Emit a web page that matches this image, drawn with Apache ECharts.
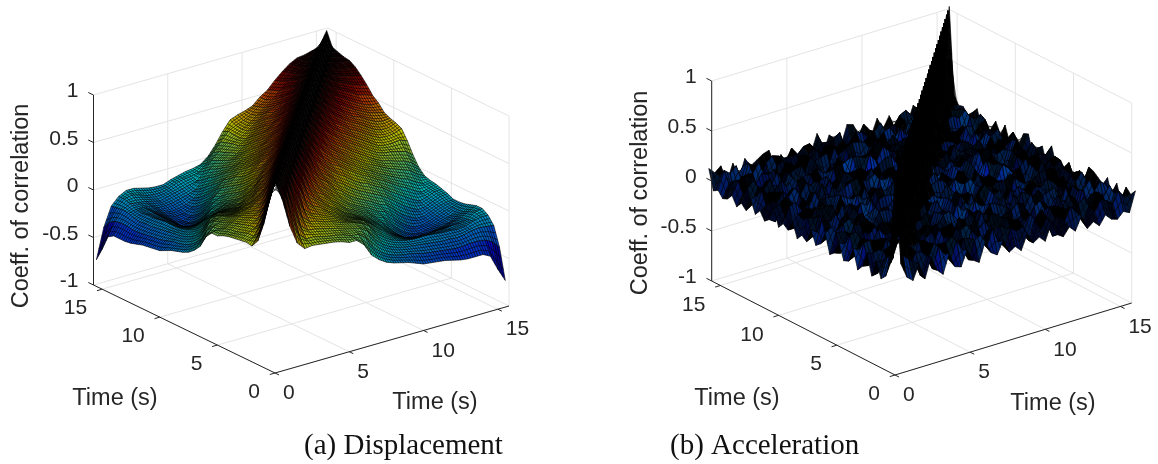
<!DOCTYPE html>
<html>
<head>
<meta charset="utf-8">
<title>Coefficient of correlation</title>
<script src="https://cdn.jsdelivr.net/npm/echarts@6/dist/echarts.min.js"></script>
<style>
  html, body { margin: 0; background: #fff; }
  #chart { width: 1158px; height: 464px; }
</style>
</head>
<body>
<div id="chart"></div>
<script>
const timeTicks = [0, 5, 10, 15]
const timeLabels = ['0', '5', '10', '15']
const corrTicks = [-1, -0.5, 0, 0.5, 1]
const corrLabels = ['-1', '-0.5', '0', '0.5', '1']

// both surfaces are symmetric, so only one side of the diagonal is kept:
// row k holds z at time lag k*step, the entries run along the smaller time
const dispStep = 0.5
const dispByLag = [
  [1,1,1,1,1,1,1,1,1,1,1,1,1,1,1,1,1,1,1,1,1,1,1,1,1,1,1,1,1,1,1,1],
  [.8,.81,.81,.82,.83,.83,.84,.84,.84,.84,.85,.85,.85,.85,.85,.85,.85,.85,.85,.85,.85,.85,.85,.85,.85,.85,.85,.85,.85,.85,.85],
  [.5,.54,.57,.6,.63,.66,.68,.69,.7,.71,.72,.72,.73,.73,.74,.75,.75,.76,.76,.77,.77,.77,.78,.79,.8,.8,.81,.82,.82,.83],
  [.3,.34,.38,.42,.45,.49,.52,.54,.56,.58,.59,.6,.62,.63,.64,.65,.66,.67,.68,.69,.7,.71,.72,.73,.75,.76,.78,.8,.81],
  [.22,.27,.31,.35,.38,.41,.44,.45,.47,.49,.5,.52,.53,.55,.56,.57,.59,.6,.61,.63,.64,.65,.67,.69,.72,.74,.77,.8],
  [.23,.27,.3,.33,.35,.37,.38,.4,.41,.43,.44,.45,.46,.48,.5,.51,.53,.54,.56,.57,.58,.6,.62,.65,.68,.72,.76],
  [.22,.25,.28,.3,.31,.31,.31,.32,.33,.34,.36,.39,.42,.43,.44,.46,.47,.49,.5,.52,.53,.55,.57,.6,.65,.7],
  [.21,.23,.26,.28,.28,.27,.26,.26,.27,.29,.31,.34,.36,.37,.38,.4,.42,.44,.46,.48,.5,.51,.53,.58,.63],
  [.2,.22,.24,.25,.24,.22,.2,.19,.2,.22,.25,.28,.31,.32,.33,.35,.37,.39,.41,.43,.45,.47,.5,.55],
  [.18,.2,.21,.22,.2,.18,.16,.15,.15,.17,.2,.23,.26,.27,.28,.3,.32,.34,.36,.38,.41,.45,.5],
  [.15,.17,.19,.2,.18,.15,.12,.11,.11,.13,.16,.2,.22,.23,.24,.25,.27,.29,.32,.35,.39,.43],
  [.15,.16,.17,.17,.15,.11,.08,.07,.07,.09,.12,.15,.17,.18,.2,.21,.24,.27,.31,.35,.4],
  [.08,.1,.12,.12,.09,.05,.02,.01,.02,.04,.08,.11,.13,.14,.16,.19,.23,.27,.32,.38],
  [-.05,-.02,.01,.02,.02,0,-.02,-.02,-.01,.01,.03,.05,.08,.1,.13,.16,.21,.28,.35],
  [-.12,-.09,-.06,-.04,-.04,-.07,-.1,-.1,-.08,-.06,-.03,0,.03,.06,.1,.14,.19,.25],
  [-.17,-.14,-.11,-.09,-.1,-.14,-.18,-.18,-.16,-.13,-.09,-.05,-.01,.03,.07,.1,.13],
  [-.2,-.17,-.14,-.12,-.14,-.19,-.24,-.24,-.22,-.18,-.14,-.1,-.06,-.02,.01,.03],
  [-.22,-.19,-.16,-.14,-.17,-.23,-.28,-.28,-.26,-.22,-.18,-.14,-.1,-.06,-.03],
  [-.24,-.2,-.17,-.15,-.18,-.24,-.29,-.29,-.26,-.22,-.17,-.12,-.08,-.05],
  [-.27,-.22,-.18,-.15,-.18,-.24,-.28,-.27,-.24,-.19,-.14,-.09,-.06],
  [-.3,-.24,-.19,-.15,-.18,-.23,-.26,-.25,-.21,-.16,-.11,-.08],
  [-.31,-.25,-.2,-.16,-.18,-.22,-.24,-.22,-.18,-.14,-.1],
  [-.32,-.26,-.21,-.17,-.18,-.21,-.22,-.2,-.16,-.13],
  [-.33,-.27,-.21,-.17,-.17,-.18,-.18,-.16,-.13],
  [-.35,-.28,-.22,-.18,-.17,-.16,-.15,-.12],
  [-.37,-.28,-.21,-.17,-.15,-.12,-.1],
  [-.38,-.27,-.19,-.14,-.1,-.08],
  [-.38,-.27,-.18,-.12,-.08],
  [-.38,-.28,-.19,-.12],
  [-.42,-.32,-.2],
  [-.58,-.4],
  [-.72]
]

// acceleration is in hundredths, it is noise everywhere but on the diagonal
const accStep = 0.4
const accByLag = [
  [100,100,100,100,100,100,100,100,100,100,100,100,100,100,100,100,100,100,100,100,100,100,100,100,100,100,100,100,100,100,100,100,100,100,100,100,100,100,100,100,100],
  [9,14,6,11,17,8,12,5,15,10,7,13,18,6,11,9,16,4,12,14,8,10,19,7,13,5,11,15,9,6,14,12,8,17,10,5,13,11,7,15],
  [-6,8,-3,11,-9,4,13,-2,6,-11,9,1,-7,12,-4,7,-12,3,10,-5,14,-8,2,9,-13,5,11,-1,-7,8,13,-10,4,-3,12,-6,9,-12,6],
  [-11,3,9,-7,12,-2,-13,6,10,-4,14,-8,1,-10,7,11,-5,-1,13,-9,4,8,-12,2,-6,12,-3,9,-14,5,10,-7,3,-11,8,13,-4,7],
  [4,-12,7,-1,10,-8,5,13,-6,2,-11,9,-3,12,-14,6,3,-9,11,-2,8,-13,5,10,-6,-1,13,-8,4,9,-11,2,7,-12,14,-5,1],
  [-13,6,-2,10,-7,13,-4,-9,8,1,11,-12,5,-6,9,-1,14,-10,3,7,-5,12,-14,2,8,-7,4,11,-2,-9,13,-6,1,10,-3,6],
  [7,-9,12,-5,2,-14,9,3,-8,11,-2,6,-12,10,1,-7,5,13,-11,-3,9,-6,4,12,-10,7,-1,8,-13,3,11,-4,-8,6,12],
  [-8,11,-4,6,-12,3,10,-7,1,13,-9,-2,8,-5,12,4,-13,7,-1,10,-6,14,-3,-11,5,9,-7,2,12,-10,-1,6,13,-5],
  [-14,2,9,-11,7,-3,12,-6,-10,5,14,-1,-8,11,-4,3,9,-12,6,-7,13,1,-5,8,-9,4,11,-13,2,7,-6,10,-2],
  [5,-7,13,-2,-10,8,-5,11,3,-12,6,10,-9,-1,7,-13,12,2,-6,9,-4,-11,14,3,-8,5,-2,12,-10,6,1,-7],
  [-10,12,-6,4,9,-13,1,7,-4,10,-11,5,13,-7,-2,8,-9,11,4,-14,6,2,-5,12,-8,-3,10,7,-12,3,9],
  [-12,1,8,-9,13,-5,-2,11,-7,4,12,-3,-10,6,9,-13,2,5,-8,14,-1,-6,10,-11,7,3,-9,12,-4,-2],
  [3,-11,6,10,-4,12,-8,-1,9,-13,5,7,-6,13,-10,1,11,-3,-7,8,-12,4,6,-2,13,-9,5,-5,10],
  [-9,7,-12,2,5,-6,14,-10,3,8,-1,-13,11,-4,6,10,-8,-2,12,-5,3,-11,9,7,-14,1,4,-6],
  [-13,10,-1,-7,11,3,-9,6,12,-5,-2,8,-13,4,9,-6,1,13,-10,5,-3,11,-7,-1,8,12,-4],
  [6,-4,9,-12,1,13,-7,-3,10,-8,5,11,-2,-10,7,3,-14,8,2,-6,12,-9,4,10,-5,-1],
  [-7,13,-8,3,-5,10,2,-11,6,12,-9,-1,7,-4,13,-12,5,1,-8,9,6,-13,3,-2,11],
  [-11,-2,10,-6,8,-13,4,7,-1,-9,13,3,-5,11,-8,-2,9,6,-12,2,10,-4,-7,13],
  [2,-9,5,12,-10,-1,6,-4,14,-7,1,9,-12,5,8,-3,-10,12,-1,4,-8,11,-6],
  [-12,8,-3,7,1,-11,12,-6,2,10,-13,4,6,-2,-9,13,-5,3,9,-10,7,-1],
  [-8,3,11,-13,6,-2,9,1,-10,7,-4,12,-8,3,11,-6,-1,10,-12,5,8],
  [-14,6,-7,2,10,-5,-9,13,4,-3,8,-12,1,9,-7,12,-2,-5,6,-10],
  [1,-10,12,-4,-8,7,3,-6,11,-13,5,2,-9,10,4,-11,7,-3,13],
  [-10,9,-2,5,-13,11,-1,8,-7,3,12,-6,-4,10,-12,2,9,-5],
  [-6,-3,13,-9,4,6,-12,10,1,-8,7,-2,11,-5,-10,8,3],
  [-12,7,-5,10,-1,-8,3,12,-11,5,9,-4,-13,6,2,-7],
  [4,-13,2,8,-6,11,-10,-2,7,13,-3,-9,5,10,-8],
  [-9,5,10,-12,3,-4,13,-7,1,-11,8,6,-2,-10],
  [-13,-1,6,-7,12,2,-11,9,-5,4,10,-8,3],
  [-5,11,-9,4,7,-13,6,1,-10,12,-3,-6],
  [-11,3,8,-2,-10,9,5,-12,7,-1,11],
  [2,-8,12,-6,1,-11,13,-4,-7,9],
  [-12,6,-3,10,-9,4,7,-13,5],
  [-7,-2,11,-8,5,12,-10,1],
  [-13,9,-5,3,-12,7,10],
  [-4,6,-11,13,-1,-8],
  [-10,1,7,-6,9],
  [-12,12,-3,-8],
  [-6,4,10],
  [-9,5],
  [11]
]

const sideTimeMax = 15.75

// where the box of each panel falls on the page, and how its mesh is inked
const viewA = { front: [275, 373], left: [93.5, 285], right: [509, 306], rise: 190, colorMin: -0.6, colorMax: 0.85, mesh: 3, edge: 0.6, topZ: 0.88, topGain: 3, bright: 0.74, spreadFrom: -1, spreadGain: 1 }
const viewB = { front: [895, 375], left: [711.7, 281], right: [1131.7, 303], rise: 200, colorMin: -0.25, colorMax: 1, mesh: 2, edge: 0.65, topZ: 0.2, topGain: 6, bright: 1, spreadFrom: 0.16, spreadGain: 5 }

const fontSans = '"Liberation Sans", Arial, sans-serif'
const fontSerif = '"Liberation Serif", "Times New Roman", serif'
const textColor = '#262626'
const gridColor = '#e4e4e4'

function clamp01(v) {
  return Math.max(0, Math.min(1, v))
}

function project(view, a, b, z) {
  const ka = a / sideTimeMax
  const kb = b / sideTimeMax
  return [
    view.front[0] + ka * (view.left[0] - view.front[0]) + kb * (view.right[0] - view.front[0]),
    view.front[1] + ka * (view.left[1] - view.front[1]) + kb * (view.right[1] - view.front[1]) - (z + 1) / 2 * view.rise
  ]
}

function jet(t) {
  return [clamp01(1.5 - Math.abs(4 * t - 3)), clamp01(1.5 - Math.abs(4 * t - 2)), clamp01(1.5 - Math.abs(4 * t - 1))]
}

// cells go from the far corner to the near one so that the nearer ones paint over
function buildCells(byLag, step, scale) {
  const n = byLag.length
  const at = (i, j) => byLag[Math.abs(i - j)][Math.min(i, j)] * scale
  const cells = []
  for (let i = n - 2; i >= 0; i--) {
    for (let j = n - 2; j >= 0; j--) {
      cells.push([i * step, j * step, at(i, j), at(i + 1, j), at(i + 1, j + 1), at(i, j + 1), step])
    }
  }
  return cells
}

function mix(p, q, t) {
  return [p[0] + (q[0] - p[0]) * t, p[1] + (q[1] - p[1]) * t]
}

function surfaceSeries(view, cells) {
  return {
    type: 'custom',
    coordinateSystem: 'cartesian2d',
    silent: true,
    z: 2,
    progressive: 0,
    clip: false,
    encode: { x: 0, y: 1 },
    data: cells,
    renderItem(params, api) {
      const a = api.value(0)
      const b = api.value(1)
      const s = api.value(6)
      const zs = [api.value(2), api.value(3), api.value(4), api.value(5)]
      const corners = [[a, b], [a + s, b], [a + s, b + s], [a, b + s]]
      const pts = corners.map((c, i) => api.coord(project(view, c[0], c[1], zs[i])))
      const mean = (zs[0] + zs[1] + zs[2] + zs[3]) / 4
      const spread = Math.max(...zs) - Math.min(...zs)
      // high parts go black, the source mesh is packed too tight there to see any fill
      const shade = view.bright * clamp01((view.topZ - mean) * view.topGain) * clamp01((spread - view.spreadFrom) * view.spreadGain)
      const rgb = jet((mean - view.colorMin) / (view.colorMax - view.colorMin)).map(v => Math.round(v * shade * 255))
      const lineStyle = { stroke: '#000', lineWidth: view.edge }
      const children = [{
        type: 'polygon',
        shape: { points: pts },
        style: { fill: `rgb(${rgb.join(',')})`, stroke: '#000', lineWidth: view.edge }
      }]
      // finer wire lines inside the cell, the source grid is much denser than this table
      for (let m = 1; m < view.mesh; m++) {
        const t = m / view.mesh
        const p0 = mix(pts[0], pts[1], t)
        const p1 = mix(pts[3], pts[2], t)
        const q0 = mix(pts[0], pts[3], t)
        const q1 = mix(pts[1], pts[2], t)
        children.push({ type: 'line', shape: { x1: p0[0], y1: p0[1], x2: p1[0], y2: p1[1] }, style: lineStyle })
        children.push({ type: 'line', shape: { x1: q0[0], y1: q0[1], x2: q1[0], y2: q1[1] }, style: lineStyle })
      }
      return { type: 'group', children }
    }
  }
}

function lineSeries(view, segments, color, z) {
  return {
    type: 'custom',
    coordinateSystem: 'cartesian2d',
    silent: true,
    z,
    clip: false,
    encode: { x: 0, y: 1 },
    data: segments,
    renderItem(params, api) {
      const p0 = api.coord(project(view, api.value(0), api.value(1), api.value(2)))
      const p1 = api.coord(project(view, api.value(3), api.value(4), api.value(5)))
      return {
        type: 'line',
        shape: { x1: p0[0], y1: p0[1], x2: p1[0], y2: p1[1] },
        style: { stroke: color, lineWidth: 1 }
      }
    }
  }
}

function gridSegments() {
  const T = sideTimeMax
  const out = []
  timeTicks.forEach(t => {
    out.push([t, 0, -1, t, T, -1]) // floor
    out.push([0, t, -1, T, t, -1])
    out.push([T, t, -1, T, t, 1]) // walls
    out.push([t, T, -1, t, T, 1])
  })
  corrTicks.forEach(c => {
    out.push([T, 0, c, T, T, c])
    out.push([0, T, c, T, T, c])
  })
  return out
}

function axisSegments() {
  const T = sideTimeMax
  const out = [[0, 0, -1, T, 0, -1], [0, 0, -1, 0, T, -1], [T, 0, -1, T, 0, 1]]
  timeTicks.forEach(t => {
    out.push([t, 0, -1, t, -0.35, -1])
    out.push([0, t, -1, -0.35, t, -1])
  })
  corrTicks.forEach(c => out.push([T, 0, c, T + 0.45, 0, c]))
  return out
}

function tickLabelSeries(view) {
  const T = sideTimeMax
  const items = []
  timeTicks.forEach((t, i) => {
    items.push([t, 0, -1, -15, 19.5, 0, timeLabels[i]])
    items.push([0, t, -1, 8, 20.5, 1, timeLabels[i]])
  })
  corrTicks.forEach((c, i) => items.push([T, 0, c, -15, -3.5, 0, corrLabels[i]]))
  return {
    type: 'custom',
    coordinateSystem: 'cartesian2d',
    silent: true,
    z: 4,
    clip: false,
    encode: { x: 0, y: 1 },
    dimensions: ['a', 'b', 'z', 'dx', 'dy', 'side', { name: 'label', type: 'ordinal' }],
    data: items,
    renderItem(params, api) {
      const p = api.coord(project(view, api.value(0), api.value(1), api.value(2)))
      return {
        type: 'text',
        x: p[0] + api.value(3),
        y: p[1] + api.value(4),
        style: {
          text: items[params.dataIndex][6],
          fill: textColor,
          fontFamily: fontSans,
          fontSize: 21,
          align: api.value(5) ? 'left' : 'right',
          verticalAlign: 'middle'
        }
      }
    }
  }
}

function axisName(text, x, y, rotation) {
  return {
    type: 'text',
    x,
    y,
    rotation: rotation || 0,
    z: 10,
    style: {
      text,
      fill: textColor,
      fontFamily: fontSans,
      fontSize: 23.5,
      align: 'center',
      verticalAlign: 'middle'
    }
  }
}

const chart = echarts.init(document.getElementById('chart'), null, { renderer: 'canvas' })
chart.setOption({
  animation: false,
  backgroundColor: '#fff',
  grid: { left: 0, right: 0, top: 0, bottom: 0 },
  xAxis: { type: 'value', min: 0, max: 1158, show: false },
  yAxis: { type: 'value', min: 0, max: 464, inverse: true, show: false },
  title: [
    { text: '(a) Displacement', left: 304, top: 432, textStyle: { fontFamily: fontSerif, fontSize: 29, fontWeight: 'normal', color: '#111' }, padding: 0 },
    { text: '(b) Acceleration', left: 670, top: 432, textStyle: { fontFamily: fontSerif, fontSize: 29, fontWeight: 'normal', color: '#111' }, padding: 0 }
  ],
  graphic: [
    axisName('Coeff. of correlation', 22, 206, Math.PI / 2),
    axisName('Time (s)', 115, 399),
    axisName('Time (s)', 435, 403),
    axisName('Coeff. of correlation', 641, 193, Math.PI / 2),
    axisName('Time (s)', 737, 399),
    axisName('Time (s)', 1053, 404)
  ],
  series: [
    lineSeries(viewA, gridSegments(), gridColor, 1),
    lineSeries(viewB, gridSegments(), gridColor, 1),
    surfaceSeries(viewA, buildCells(dispByLag, dispStep, 1)),
    surfaceSeries(viewB, buildCells(accByLag, accStep, 0.01)),
    lineSeries(viewA, axisSegments(), textColor, 3),
    lineSeries(viewB, axisSegments(), textColor, 3),
    tickLabelSeries(viewA),
    tickLabelSeries(viewB)
  ]
})
</script>
</body>
</html>
